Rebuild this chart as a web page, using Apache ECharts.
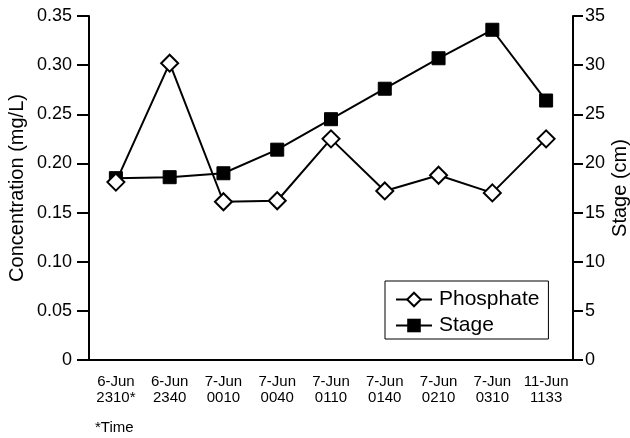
<!DOCTYPE html>
<html lang="en">
<head>
<meta charset="UTF-8" />
<title>Phosphate and Stage</title>
<script src="https://cdn.jsdelivr.net/npm/echarts@6/dist/echarts.min.js"></script>
<style>
  html, body { margin: 0; background: #fff; }
  #chart { width: 630px; height: 438px; }
</style>
</head>
<body>
<div id="chart"></div>
<script>
  // sample times (day + clock)
  const times = ['6-Jun\n2310*', '6-Jun\n2340', '7-Jun\n0010', '7-Jun\n0040', '7-Jun\n0110',
                 '7-Jun\n0140', '7-Jun\n0210', '7-Jun\n0310', '11-Jun\n1133'];
  const phosphate = [0.181, 0.302, 0.161, 0.162, 0.225, 0.172, 0.188, 0.170, 0.225];
  const stage = [18.5, 18.6, 19.0, 21.4, 24.5, 27.6, 30.7, 33.6, 26.4];

  const font = 'Liberation Sans, Arial, sans-serif';
  const chart = echarts.init(document.getElementById('chart'));

  chart.setOption({
    animation: false,
    backgroundColor: '#fff',
    textStyle: { fontFamily: font, color: '#000' },
    grid: { left: 89, right: 57, top: 16, bottom: 78, containLabel: false, outerBoundsMode: 'none' },
    legend: {
      left: 385, top: 281,
      orient: 'vertical',
      itemGap: 5,
      itemWidth: 36,
      itemHeight: 17,
      padding: [8, 9, 3, 10],
      borderColor: '#000', borderWidth: 1,
      textStyle: { fontSize: 21, fontFamily: font, color: '#000', padding: [0, 0, 0, 2] },
      data: ['Phosphate', 'Stage']
    },
    graphic: [{
      type: 'text', left: 95, top: 420,
      style: { text: '*Time', fontSize: 15, fontFamily: font, fill: '#000' }
    }],
    xAxis: {
      type: 'category',
      data: times,
      boundaryGap: true,
      axisLine: { lineStyle: { color: '#000', width: 2 } },
      axisTick: { length: 8, lineStyle: { color: '#000', width: 2 } },
      axisLabel: { fontSize: 15, lineHeight: 16, color: '#000', margin: 14, interval: 0 }
    },
    yAxis: [{
      type: 'value', min: 0, max: 0.35, interval: 0.05,
      name: 'Concentration (mg/L)', nameLocation: 'middle', nameGap: 62, nameRotate: 90,
      nameMoveOverlap: false,
      nameTextStyle: { fontSize: 20, color: '#000' },
      axisLine: { show: true, lineStyle: { color: '#000', width: 2 } },
      axisTick: { show: true, length: 12, lineStyle: { color: '#000', width: 2 } },
      axisLabel: {
        fontSize: 18, color: '#000', margin: 17,
        formatter: v => v === 0 ? '0' : v.toFixed(2)
      },
      splitLine: { show: false }
    }, {
      type: 'value', min: 0, max: 35, interval: 5,
      name: 'Stage (cm)', nameLocation: 'middle', nameGap: 37, nameRotate: 90,
      nameMoveOverlap: false,
      nameTextStyle: { fontSize: 20, color: '#000' },
      axisLine: { show: true, lineStyle: { color: '#000', width: 2 } },
      axisTick: { show: true, length: 10, lineStyle: { color: '#000', width: 2 } },
      axisLabel: { fontSize: 18, color: '#000', margin: 12 },
      splitLine: { show: false }
    }],
    series: [{
      name: 'Phosphate',
      type: 'line',
      yAxisIndex: 0,
      data: phosphate,
      symbol: 'diamond',
      symbolSize: 17,
      showAllSymbol: true,
      lineStyle: { color: '#000', width: 2 },
      itemStyle: { color: '#fff', borderColor: '#000', borderWidth: 2 },
      z: 3
    }, {
      name: 'Stage',
      type: 'line',
      yAxisIndex: 1,
      data: stage,
      symbol: 'rect',
      symbolSize: 13,
      showAllSymbol: true,
      lineStyle: { color: '#000', width: 2 },
      itemStyle: { color: '#000', borderColor: '#000' },
      z: 2
    }]
  });
</script>
</body>
</html>
